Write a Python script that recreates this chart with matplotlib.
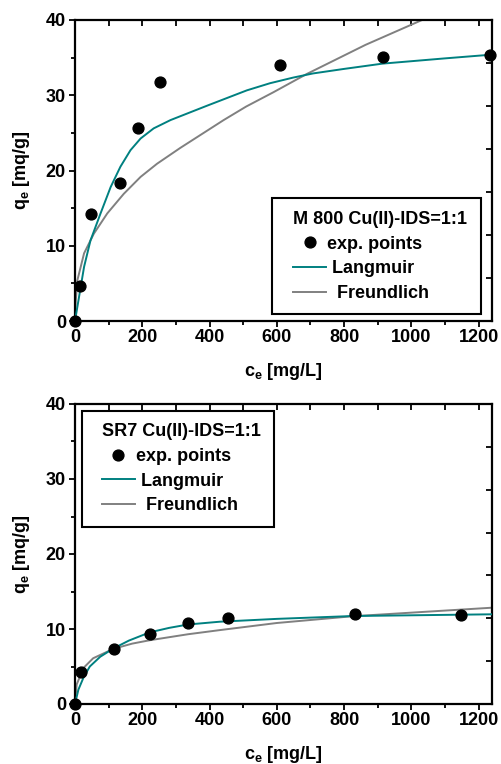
import matplotlib
matplotlib.use("Agg")
import matplotlib.pyplot as plt
from matplotlib.patches import Rectangle
import numpy as np

plt.rcParams['font.family'] = ['Liberation Sans', 'DejaVu Sans']
plt.rcParams['font.weight'] = 'bold'
plt.rcParams['mathtext.fontset'] = 'custom'
plt.rcParams['mathtext.rm'] = 'Liberation Sans:bold'
plt.rcParams['mathtext.bf'] = 'Liberation Sans:bold'
plt.rcParams['mathtext.it'] = 'Liberation Sans:bold'
plt.rcParams['mathtext.default'] = 'bf'

# ---- Top panel: M 800 Cu(II)-IDS=1:1 ----
m800_ce = [0, 16, 47, 133, 188, 252, 611, 916, 1233]
m800_qe = [0, 4.65, 14.2, 18.4, 25.65, 31.8, 34.05, 35.1, 35.3]
m800_lang_c = [0, 12, 27, 46, 76, 106, 135, 165, 195, 234, 284, 392, 511, 580,
               649, 708, 800, 914, 1100, 1240]
m800_lang_q = [0, 3.2, 7.2, 10.7, 14.3, 17.8, 20.5, 22.7, 24.25, 25.6, 26.7,
               28.6, 30.65, 31.6, 32.35, 32.9, 33.5, 34.2, 34.9, 35.4]
m800_freu_c = [0, 2, 7, 27, 56, 96, 145, 195, 244, 313, 442, 509, 590, 688,
               864, 1032, 1240]
m800_freu_q = [0, 2.5, 5.4, 9.0, 11.6, 14.3, 16.9, 19.15, 20.9, 23.0, 26.7,
               28.5, 30.4, 32.8, 36.7, 40.0, 43.3]

# ---- Bottom panel: SR7 Cu(II)-IDS=1:1 ----
sr7_ce = [0, 18, 117, 223, 336, 454, 832, 1149]
sr7_qe = [0, 4.3, 7.3, 9.33, 10.76, 11.5, 11.96, 11.87]
sr7_lang_c = [0, 10, 25, 44, 75, 114, 160, 222, 280, 336, 430, 600, 825, 1240]
sr7_lang_q = [0, 1.9, 3.5, 5.0, 6.3, 7.4, 8.45, 9.55, 10.15, 10.6, 10.97,
              11.35, 11.73, 11.96]
sr7_freu_c = [0, 5, 25, 54, 114, 170, 222, 336, 430, 600, 825, 1240]
sr7_freu_q = [0, 2.6, 4.8, 6.1, 7.35, 8.05, 8.5, 9.3, 9.85, 10.8, 11.7, 12.84]

x_ticks = [0, 200, 400, 600, 800, 1000, 1200]
y_ticks = [0, 10, 20, 30, 40]
legend_labels = ['exp. points', ' Langmuir', '  Freundlich']

TEAL = '#008080'
GRAY = '#808080'
FS = 13

fig = plt.figure(figsize=(5.01, 7.64), dpi=100)
left, width = 75 / 501, 417 / 501
axes_pos = [
    [left, 1 - 321 / 764, width, 301 / 764],
    [left, 1 - 704 / 764, width, 300 / 764],
]

# (frame rect in axes fraction: x0, y0, w, h), (legend anchor upper-left)
panels = [
    (m800_ce, m800_qe, m800_lang_c, m800_lang_q, m800_freu_c, m800_freu_q,
     'M 800 Cu(II)-IDS=1:1', (0.4724, 0.0233, 0.5012, 0.3853), (0.5228, 0.365)),
    (sr7_ce, sr7_qe, sr7_lang_c, sr7_lang_q, sr7_freu_c, sr7_freu_q,
     'SR7 Cu(II)-IDS=1:1', (0.0168, 0.59, 0.4604, 0.3867), (0.064, 0.935)),
]

for pos, (ce, qe, lc, lq, fc, fq, title, rect, anchor) in zip(axes_pos, panels):
    ax = fig.add_axes(pos)
    h_l, = ax.plot(lc, lq, color=TEAL, lw=1.4, zorder=3)
    h_f, = ax.plot(fc, fq, color=GRAY, lw=1.4, zorder=2)
    h_p, = ax.plot(ce, qe, 'o', color='black', ms=7.8, clip_on=False, zorder=4)
    ax.set_xlim(0, 1240)
    ax.set_ylim(0, 40)
    ax.set_xticks(x_ticks)
    ax.set_xticks(np.arange(100, 1240, 200), minor=True)
    ax.set_yticks(y_ticks)
    ax.set_yticks(np.arange(5, 40, 10), minor=True)
    ax.tick_params(axis='both', which='major', direction='out', length=4.5,
                   width=1.3, labelsize=FS, pad=2)
    ax.tick_params(axis='both', which='minor', direction='out', length=3,
                   width=1.3)
    ax.tick_params(axis='x', which='both', pad=1)
    for lab in ax.get_xticklabels() + ax.get_yticklabels():
        lab.set_fontweight('bold')
    for sp in ax.spines.values():
        sp.set_linewidth(1.6)
    ax.set_xlabel(r'c$_e$ [mg/L]', fontsize=FS, fontweight='bold', labelpad=11)
    ax.set_ylabel(r'q$_e$ [mq/g]', fontsize=FS, fontweight='bold', labelpad=10)

    # inward ticks on top and right spines
    axt = ax.twiny()
    axt.set_xlim(0, 1240)
    axt.set_xticks(np.arange(100, 1240, 100))
    axt.tick_params(axis='x', direction='in', length=4, width=1.3,
                    labeltop=False)
    axr = ax.twinx()
    axr.set_ylim(0, 40)
    axr.set_yticks([40 * k / 7 for k in range(1, 7)])
    axr.tick_params(axis='y', direction='in', length=4, width=1.3,
                    labelright=False)
    for a in (axt, axr):
        for sp in a.spines.values():
            sp.set_visible(False)
    axr.set_zorder(ax.get_zorder() - 1)
    axt.set_zorder(ax.get_zorder() - 1)
    ax.patch.set_visible(False)

    # legend frame
    frame = Rectangle((rect[0], rect[1]), rect[2], rect[3], transform=ax.transAxes,
                      facecolor='white', edgecolor='black', lw=1.5, zorder=9,
                      clip_on=False)
    ax.add_patch(frame)
    leg = ax.legend([h_p, h_l, h_f], legend_labels, title=title,
                    loc='upper left', bbox_to_anchor=anchor, frameon=False,
                    alignment='left',
                    prop={'weight': 'bold', 'size': FS},
                    title_fontproperties={'weight': 'bold', 'size': FS},
                    handlelength=1.85, handletextpad=0.06, labelspacing=0.42,
                    borderpad=0, borderaxespad=0)
    leg.set_zorder(10)

fig.savefig('out.png', dpi=100)
